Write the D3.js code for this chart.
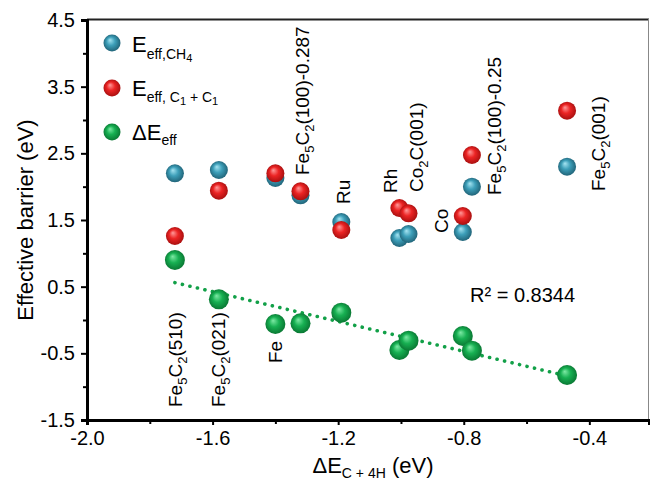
<!DOCTYPE html>
<html>
<head>
<meta charset="utf-8">
<script src="https://cdn.jsdelivr.net/npm/d3@7"></script>
<style>
  body { margin: 0; background: #fff; }
  text { font-family: "Liberation Sans", Arial, sans-serif; fill: #000; }
</style>
</head>
<body>
<div id="chart"></div>
<script>
// Data
const systems = ["Fe5C2(510)", "Fe5C2(021)", "Fe", "Fe5C2(100)-0.287", "Ru", "Rh", "Co2C(001)", "Co", "Fe5C2(100)-0.25", "Fe5C2(001)"];
const dE_C4H = [-1.72, -1.58, -1.40, -1.32, -1.19, -1.005, -0.976, -0.803, -0.774, -0.471];
const effCH4 = [2.20, 2.25, 2.13, 1.87, 1.47, 1.23, 1.29, 1.32, 2.00, 2.30];
const effC1C1 = [1.26, 1.94, 2.20, 1.93, 1.35, 1.68, 1.60, 1.56, 2.475, 3.14];
const dEeff = [0.90, 0.31, -0.06, -0.05, 0.11, -0.45, -0.31, -0.24, -0.46, -0.825];
const r2Text = "R² = 0.8344";

const xMajor = [-2.0, -1.6, -1.2, -0.8, -0.4];
const xMinor = [-1.8, -1.4, -1.0, -0.6];
const yMajor = [4.5, 3.5, 2.5, 1.5, 0.5, -0.5, -1.5];
const yMinor = [4.0, 3.0, 2.0, 1.0, 0.0, -1.0];

// label anchors in data units (bottom of rotated text), "|" toggles subscript
const labelAnchors = [
  { name: "Fe|5|C|2|(510)", x: -1.697, y: -1.305 },
  { name: "Fe|5|C|2|(021)", x: -1.560, y: -1.305 },
  { name: "Fe", x: -1.378, y: -0.645 },
  { name: "Fe|5|C|2|(100)-0.287", x: -1.292, y: 2.175 },
  { name: "Ru", x: -1.162, y: 1.74 },
  { name: "Rh", x: -1.012, y: 1.905 },
  { name: "Co|2|C(001)", x: -0.929, y: 1.92 },
  { name: "Co", x: -0.849, y: 1.305 },
  { name: "Fe|5|C|2|(100)-0.25", x: -0.680, y: 1.875 },
  { name: "Fe|5|C|2|(001)", x: -0.349, y: 1.935 }
];

const W = 650, H = 483;
const x = d3.scaleLinear().domain([-2.0, -0.21]).range([87, 649]);
const y = d3.scaleLinear().domain([-1.5, 4.5]).range([420, 20]);

const svg = d3.select("#chart").append("svg")
    .attr("width", W).attr("height", H);

// ball gradients
const defs = svg.append("defs");
function ball(id, hi, mid, edge) {
  const g = defs.append("radialGradient").attr("id", id)
      .attr("cx", "50%").attr("cy", "50%").attr("r", "55%")
      .attr("fx", "38%").attr("fy", "32%");
  g.append("stop").attr("offset", "0%").attr("stop-color", hi);
  g.append("stop").attr("offset", "45%").attr("stop-color", mid);
  g.append("stop").attr("offset", "100%").attr("stop-color", edge);
}
ball("gBlue", "#a6e4f2", "#3d9fb9", "#1d5c70");
ball("gRed", "#ff9a9a", "#ec2424", "#a00d0d");
ball("gGreen", "#7eeaa5", "#17b052", "#08702f");

// frame (top and right)
svg.append("line").attr("x1", 87).attr("x2", 649).attr("y1", 19.5).attr("y2", 19.5)
    .attr("stroke", "#222").attr("stroke-width", 2);
svg.append("line").attr("x1", 648.5).attr("x2", 648.5).attr("y1", 19).attr("y2", 420)
    .attr("stroke", "#888").attr("stroke-width", 1);

// axes
const fmt = d => d.toFixed(1);
svg.append("g").attr("transform", "translate(0,420)")
    .call(d3.axisBottom(x).tickValues(xMajor).tickFormat(fmt).tickSize(5).tickPadding(6));
svg.append("g").attr("transform", "translate(0,420)")
    .call(d3.axisBottom(x).tickValues(xMinor).tickFormat("").tickSize(4))
    .select(".domain").remove();
svg.append("g").attr("transform", "translate(87,0)")
    .call(d3.axisLeft(y).tickValues(yMajor).tickFormat(fmt).tickSize(6).tickPadding(6));
svg.append("g").attr("transform", "translate(87,0)")
    .call(d3.axisLeft(y).tickValues(yMinor).tickFormat("").tickSize(4))
    .select(".domain").remove();

svg.selectAll(".domain").attr("stroke", "#000").attr("stroke-width", 3);
svg.selectAll(".tick line").attr("stroke", "#000").attr("stroke-width", 2);
svg.selectAll(".tick text").style("font-family", "Liberation Sans, Arial, sans-serif")
    .style("font-size", "20px").attr("fill", "#000");

// axis titles
svg.append("text")
    .attr("transform", "translate(33,220) rotate(-90)")
    .attr("text-anchor", "middle")
    .style("font-size", "22px")
    .text("Effective barrier (eV)");

const xt = svg.append("text").attr("x", 373).attr("y", 473)
    .attr("text-anchor", "middle").style("font-size", "22px");
xt.append("tspan").text("ΔE");
xt.append("tspan").attr("dy", 5).style("font-size", "14px").text("C + 4H");
xt.append("tspan").attr("dy", -5).text(" (eV)");

// trend line (least squares on ΔE_eff)
const mx = d3.mean(dE_C4H), my = d3.mean(dEeff);
const sxy = d3.sum(dE_C4H, (v, i) => (v - mx) * (dEeff[i] - my));
const sxx = d3.sum(dE_C4H, v => (v - mx) * (v - mx));
const slope = sxy / sxx, icpt = my - slope * mx;
const xr = d3.extent(dE_C4H);
svg.append("line")
    .attr("x1", x(xr[0])).attr("y1", y(icpt + slope * xr[0]))
    .attr("x2", x(xr[1])).attr("y2", y(icpt + slope * xr[1]))
    .attr("stroke", "#12a048").attr("stroke-width", 3.6)
    .attr("stroke-linecap", "round").attr("stroke-dasharray", "0.1 7.6");

// points
const pts = (vals) => dE_C4H.map((v, i) => ({ x: v, y: vals[i] }));
function drawBalls(vals, fill, r) {
  svg.append("g").selectAll("circle")
      .data(pts(vals))
      .enter().append("circle")
      .attr("cx", d => x(d.x)).attr("cy", d => y(d.y))
      .attr("r", r).attr("fill", fill);
}
drawBalls(effCH4, "url(#gBlue)", 9);
drawBalls(effC1C1, "url(#gRed)", 9);
drawBalls(dEeff, "url(#gGreen)", 10);

// rotated labels with subscripts
labelAnchors.forEach(l => {
  const t = svg.append("text")
      .attr("transform", `translate(${x(l.x)},${y(l.y)}) rotate(-90)`)
      .style("font-size", "19px");
  let sub = false, prevSub = false;
  l.name.split("|").forEach(p => {
    if (p.length) {
      t.append("tspan")
          .attr("dy", sub ? 5 : (prevSub ? -5 : 0))
          .style("font-size", sub ? "13px" : "19px")
          .text(p);
      prevSub = sub;
    }
    sub = !sub;
  });
});

// R² annotation
svg.append("text").attr("x", 470).attr("y", 302).style("font-size", "20px").text(r2Text);

// legend
const legend = [
  { fill: "url(#gBlue)", cy: 43 },
  { fill: "url(#gRed)", cy: 88 },
  { fill: "url(#gGreen)", cy: 132 }
];
svg.append("g").selectAll("circle").data(legend).enter().append("circle")
    .attr("cx", 112).attr("cy", d => d.cy).attr("r", 8.5).attr("fill", d => d.fill);

const l1 = svg.append("text").attr("x", 132).attr("y", 52).style("font-size", "22px");
l1.append("tspan").text("E");
l1.append("tspan").attr("dy", 7).style("font-size", "14px").text("eff,CH");
l1.append("tspan").attr("dy", 3).style("font-size", "11px").text("4");

const l2 = svg.append("text").attr("x", 132).attr("y", 96).style("font-size", "22px");
l2.append("tspan").text("E");
l2.append("tspan").attr("dy", 6).style("font-size", "14px").text("eff, C");
l2.append("tspan").attr("dy", 3).style("font-size", "11px").text("1");
l2.append("tspan").attr("dy", -3).style("font-size", "14px").text(" + C");
l2.append("tspan").attr("dy", 3).style("font-size", "11px").text("1");

const l3 = svg.append("text").attr("x", 132).attr("y", 140).style("font-size", "22px");
l3.append("tspan").text("ΔE");
l3.append("tspan").attr("dy", 5).style("font-size", "14px").text("eff");
</script>
</body>
</html>
